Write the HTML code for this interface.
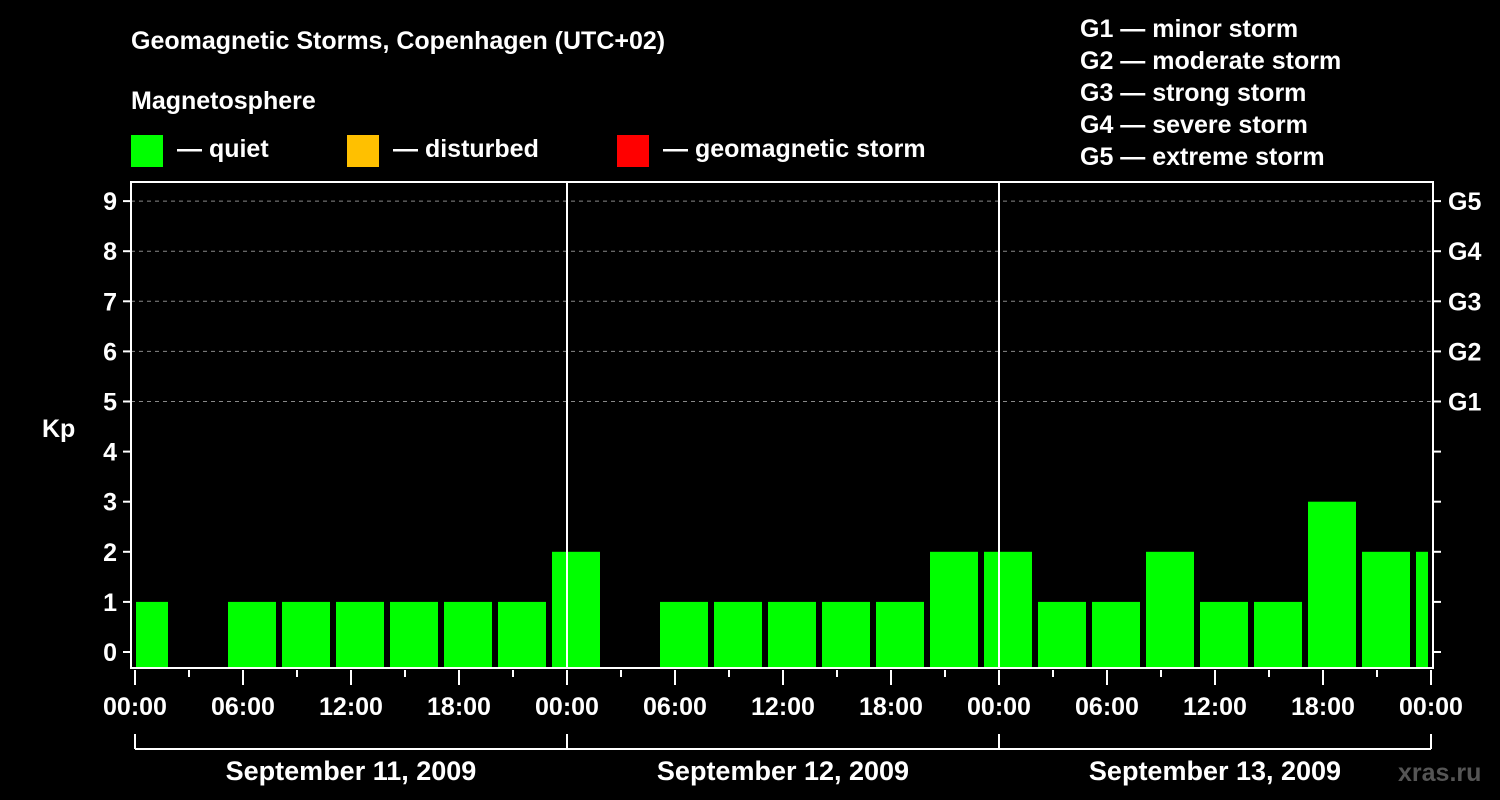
<!DOCTYPE html>
<html><head><meta charset="utf-8"><style>
html,body{margin:0;padding:0;background:#000;}
svg{display:block;font-family:"Liberation Sans",Arial,sans-serif;font-weight:bold;}
</style></head><body>
<svg id="chart" width="1500" height="800" viewBox="0 0 1500 800">
<rect width="1500" height="800" fill="#000"/>
<text x="131" y="49" fill="#fff" font-size="25">Geomagnetic Storms, Copenhagen (UTC+02)</text>
<text x="131" y="109" fill="#fff" font-size="25">Magnetosphere</text>
<g><rect x="131" y="135" width="32" height="32" fill="#00ff00"/><text x="177" y="157" fill="#fff" font-size="25">— quiet</text></g>
<g><rect x="347" y="135" width="32" height="32" fill="#ffc000"/><text x="393" y="157" fill="#fff" font-size="25">— disturbed</text></g>
<g><rect x="617" y="135" width="32" height="32" fill="#ff0000"/><text x="663" y="157" fill="#fff" font-size="25">— geomagnetic storm</text></g>
<g fill="#fff" font-size="25">
<text x="1080" y="37">G1 — minor storm</text>
<text x="1080" y="69">G2 — moderate storm</text>
<text x="1080" y="101">G3 — strong storm</text>
<text x="1080" y="133">G4 — severe storm</text>
<text x="1080" y="165">G5 — extreme storm</text>
</g>
<text x="42" y="437" fill="#fff" font-size="25">Kp</text>
<text x="1398" y="781" fill="#555" font-size="25">xras.ru</text>
<g id="grid"></g><g id="bars"></g><g id="axes"></g>
</svg>
<script>
const kpValues=[1,0,1,1,1,1,1,1,2,0,1,1,1,1,1,2,2,1,1,2,1,1,3,2,2];
const binStartHours=[-1,2,5,8,11,14,17,20,23,26,29,32,35,38,41,44,47,50,53,56,59,62,65,68,71];
const yTicks=[0,1,2,3,4,5,6,7,8,9];
const gLabels=["G1","G2","G3","G4","G5"];
const xTickLabels=["00:00","06:00","12:00","18:00","00:00","06:00","12:00","18:00","00:00","06:00","12:00","18:00","00:00"];
const dayLabels=["September 11, 2009","September 12, 2009","September 13, 2009"];
const NS="http://www.w3.org/2000/svg";
const X0=135,PXH=18,L=131,R=1433,T=182,B=668;
const x=h=>X0+h*PXH;
const y=v=>652-v*50.1;
function mk(tag,attrs,parent,text){const e=document.createElementNS(NS,tag);for(const k in attrs)e.setAttribute(k,attrs[k]);if(text!==undefined)e.textContent=text;parent.appendChild(e);return e;}
const grid=document.getElementById('grid'),bars=document.getElementById('bars'),axes=document.getElementById('axes');
for(let v=5;v<=9;v++){const l=mk('line',{x1:L,x2:R,y1:y(v),y2:y(v),stroke:'#888','stroke-dasharray':'4,4','stroke-width':1},grid);

}
kpValues.forEach((v,i)=>{if(v<=0)return;let x1=Math.max(x(binStartHours[i])+3,X0+1),x2=Math.min(x(binStartHours[i]+3)-3,x(72)-3);
const r=mk('rect',{x:x1,y:y(v),width:x2-x1,height:B-y(v),fill:'#00ff00'},bars);

});
[24,48].forEach(h=>{const l=mk('line',{x1:x(h),x2:x(h),y1:T,y2:B,stroke:'#fff','stroke-width':2},axes);

});
const frame=mk('rect',{x:L,y:T,width:R-L,height:B-T,fill:'none',stroke:'#fff','stroke-width':2},axes);


yTicks.forEach(v=>{mk('line',{x1:L-8,x2:L,y1:y(v),y2:y(v),stroke:'#fff','stroke-width':2},axes);
mk('line',{x1:R,x2:R+8,y1:y(v),y2:y(v),stroke:'#fff','stroke-width':2},axes);
const t=mk('text',{x:L-14,y:y(v)+9,fill:'#fff','font-size':25,'text-anchor':'end'},axes,String(v));

});
gLabels.forEach((g,i)=>{const t=mk('text',{x:1448,y:y(i+5)+9,fill:'#fff','font-size':25},axes,g);

});
for(let h=0;h<=72;h+=3){mk('line',{x1:x(h),x2:x(h),y1:B+2,y2:B+(h%6===0?17:9),stroke:'#fff','stroke-width':2},axes);}
xTickLabels.forEach((s,i)=>{const t=mk('text',{x:x(i*6),y:715,fill:'#fff','font-size':25,'text-anchor':'middle'},axes,s);

});
mk('line',{x1:x(0),x2:x(72),y1:749,y2:749,stroke:'#fff','stroke-width':2},axes);
[0,24,48,72].forEach(h=>mk('line',{x1:x(h),x2:x(h),y1:734,y2:749,stroke:'#fff','stroke-width':2},axes));
dayLabels.forEach((s,i)=>{const t=mk('text',{x:x(i*24+12),y:780,fill:'#fff','font-size':27,'text-anchor':'middle'},axes,s);

});
</script>
</body></html>
